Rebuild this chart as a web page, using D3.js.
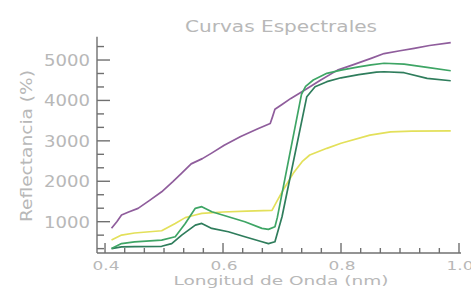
<!DOCTYPE html>
<html><head><meta charset="utf-8">
<script src="https://cdn.jsdelivr.net/npm/d3@7"></script>
<style>body{margin:0;background:#fff}svg{display:block}</style>
</head><body><svg id="c" width="471" height="289"></svg>
<script>
const title = "Curvas Espectrales";
const xTitle = "Longitud de Onda (nm)";
const yTitle = "Reflectancia (%)";
const xTickLabels = ["0.4","0.6","0.8","1.0"];
const xTickValues = [0.4,0.6,0.8,1.0];
const yTickValues = [1000,2000,3000,4000,5000];

const purpleX = [0.411,0.420,0.428,0.440,0.456,0.475,0.496,0.515,0.530,0.546,0.565,0.580,0.602,0.630,0.659,0.680,0.684,0.688,0.700,0.715,0.738,0.765,0.794,0.820,0.851,0.873,0.900,0.924,0.950,0.986];
const purpleY = [836,1000,1165,1240,1330,1520,1740,1990,2200,2430,2560,2690,2890,3110,3300,3430,3600,3780,3900,4050,4250,4500,4750,4880,5040,5160,5230,5290,5360,5430];

const yellowX = [0.411,0.428,0.450,0.496,0.519,0.536,0.553,0.564,0.600,0.640,0.683,0.691,0.702,0.719,0.735,0.747,0.776,0.800,0.849,0.884,0.920,0.986];
const yellowY = [545,668,720,776,957,1100,1165,1206,1240,1260,1280,1494,1784,2196,2500,2650,2815,2940,3140,3220,3240,3245];

const greenUX = [0.411,0.428,0.450,0.496,0.519,0.536,0.553,0.564,0.581,0.609,0.637,0.666,0.677,0.688,0.692,0.733,0.740,0.753,0.776,0.800,0.830,0.851,0.873,0.907,0.946,0.986];
const greenUY = [334,458,500,545,627,957,1330,1371,1247,1123,999,835,810,876,1100,4150,4350,4505,4670,4750,4830,4880,4920,4900,4820,4735];

const greenLX = [0.411,0.428,0.450,0.496,0.513,0.530,0.553,0.564,0.581,0.609,0.637,0.666,0.677,0.688,0.700,0.742,0.756,0.776,0.800,0.830,0.860,0.873,0.907,0.946,0.986];
const greenLY = [334,376,385,391,458,668,916,957,834,751,627,503,458,503,1123,4093,4340,4464,4560,4640,4700,4710,4686,4545,4487];

const svg = d3.select("#c");
const x = d3.scaleLinear().domain([0.3864, 1.0]).range([97, 459]);
const y = d3.scaleLinear().domain([225, 5577]).range([253, 36.7]);
const axisCol = "#707070", textCol = "#b8b8b8";
const font = "DejaVu Sans";

// axes lines
svg.append("line").attr("x1",97).attr("x2",97).attr("y1",y.range()[1]).attr("y2",253).attr("stroke",axisCol).attr("stroke-width",1.4);
svg.append("line").attr("x1",97).attr("x2",x(1.0)+2).attr("y1",253).attr("y2",253).attr("stroke",axisCol).attr("stroke-width",1.4);

// y ticks
const yMinor = d3.range(1,17).map(i => i*1000/3).filter(v => v > y.domain()[0] && v < y.domain()[1]);
svg.selectAll(".ymin").data(yMinor).enter().append("line")
  .attr("x1",97).attr("x2",d => (Math.round(d) % 1000 === 0) ? 110 : 104)
  .attr("y1",d=>y(d)).attr("y2",d=>y(d)).attr("stroke",axisCol).attr("stroke-width",1.4);
svg.selectAll(".ylab").data(yTickValues).enter().append("text")
  .attr("x",90).attr("y",d=>y(d)+6).attr("text-anchor","end")
  .attr("font-family",font).attr("font-size",15).attr("fill",textCol)
  .attr("textLength",46).attr("lengthAdjust","spacingAndGlyphs").text(d=>d);

// x ticks
const xMinor = d3.range(0,19).map(i => 0.4 + i*0.2/6);
svg.selectAll(".xmin").data(xMinor).enter().append("line")
  .attr("x1",d=>x(d)).attr("x2",d=>x(d))
  .attr("y1",253).attr("y2",(d,i)=> i%6===0 ? 243 : 248)
  .attr("stroke",axisCol).attr("stroke-width",1.4);
svg.selectAll(".xlab").data(xTickValues).enter().append("text")
  .attr("x",d=>x(d)+1).attr("y",269.5).attr("text-anchor","middle")
  .attr("font-family",font).attr("font-size",13).attr("fill",textCol)
  .attr("textLength",27).attr("lengthAdjust","spacingAndGlyphs")
  .text((d,i)=>xTickLabels[i]);

// titles
svg.append("text").attr("x",281).attr("y",32).attr("text-anchor","middle")
  .attr("font-family",font).attr("font-size",16).attr("fill",textCol)
  .attr("textLength",192).attr("lengthAdjust","spacingAndGlyphs").text(title);
svg.append("text").attr("x",281).attr("y",284.5).attr("text-anchor","middle")
  .attr("font-family",font).attr("font-size",13).attr("fill",textCol)
  .attr("textLength",215).attr("lengthAdjust","spacingAndGlyphs").text(xTitle);
svg.append("text").attr("transform","translate(32,146) rotate(-90)").attr("text-anchor","middle")
  .attr("font-family",font).attr("font-size",15).attr("fill",textCol)
  .attr("textLength",152).attr("lengthAdjust","spacingAndGlyphs").text(yTitle);

const line = d3.line().x(d=>x(d[0])).y(d=>y(d[1]));
function draw(xs, ys, col){
  svg.append("path").datum(xs.map((v,i)=>[v,ys[i]]))
    .attr("d",line).attr("fill","none").attr("stroke",col)
    .attr("stroke-width",1.7).attr("stroke-linejoin","round");
}
draw(yellowX, yellowY, "#e3e05a");
draw(purpleX, purpleY, "#8f5d9c");
draw(greenLX, greenLY, "#2f7d5c");
draw(greenUX, greenUY, "#3ea565");
</script></body></html>
